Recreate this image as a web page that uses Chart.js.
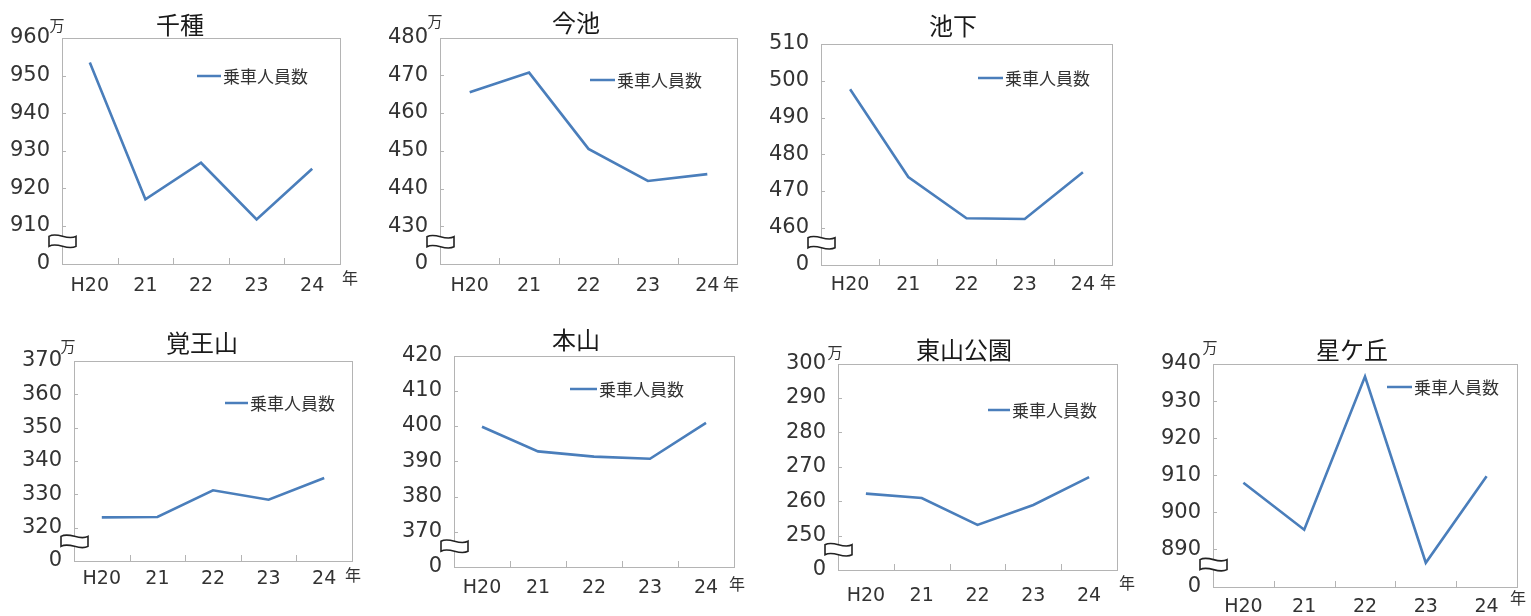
<!DOCTYPE html>
<html lang="ja">
<head>
<meta charset="utf-8">
<title>乗車人員数</title>
<script src="https://cdn.jsdelivr.net/npm/chart.js@4.4.1/dist/chart.umd.min.js"></script>
<style>
  html, body { margin: 0; padding: 0; background: #fff; }
  body { width: 1531px; height: 616px; position: relative; overflow: hidden; }
  canvas { position: absolute; }
</style>
</head>
<body>
<script>
// 年度（平成）
const years = ['H20', '21', '22', '23', '24'];

// 駅名
const stations = ['千種', '今池', '池下', '覚王山', '本山', '東山公園', '星ケ丘'];

// 乗車人員数（万人）
const chikusa     = [953.5, 917.1, 926.8, 911.7, 925.2];
const imaike      = [465.5, 470.7, 450.5, 442.0, 443.8];
const ikeshita    = [497.7, 473.8, 462.6, 462.4, 475.1];
const kakuozan    = [323.1, 323.2, 331.2, 328.4, 334.9];
const motoyama    = [399.8, 392.8, 391.3, 390.7, 400.9];
const higashiyama = [262.2, 260.9, 253.1, 258.9, 267.0];
const hoshigaoka  = [908.0, 895.3, 936.6, 886.4, 909.7];

// 縦軸の範囲（下端は省略記号の下で「0」と表示）
const axisMin = [900, 420, 450, 310, 360, 240, 880];
const axisMax = [960, 480, 510, 370, 420, 300, 940];
const axisStep = 10;

const seriesLabel = '乗車人員数';
const unitLabel = '万';
const yearUnit = '年';

const seriesByStation = [chikusa, imaike, ikeshita, kakuozan, motoyama, higashiyama, hoshigaoka];

// 各グラフの配置: box = キャンバス [左, 上, 右, 下], plot = 描画領域
const layout = [
  { box: [0, 0, 368, 300],      plot: [62, 38, 340, 263.5],   title: [180, 25],   man: [57, 25],    nen: [350, 278],  legend: [197, 221, 76],  xPad: 11 },
  { box: [370, 0, 746, 300],    plot: [440, 37.5, 737, 264],  title: [576, 23],   man: [435, 21],   nen: [731, 284],  legend: [590, 615, 80],  xPad: 11 },
  { box: [750, 0, 1135, 300],   plot: [821, 44, 1112, 264.5], title: [953, 26],   man: null,        nen: [1108, 282], legend: [978, 1003, 78], xPad: 9 },
  { box: [0, 318, 372, 616],    plot: [74, 361, 352, 561],    title: [202, 343],  man: [68, 346],   nen: [353, 575],  legend: [225, 248, 403], xPad: 7 },
  { box: [378, 318, 752, 616],  plot: [454, 355.5, 734, 567], title: [576, 340],  man: null,        nen: [737, 584],  legend: [570, 597, 389], xPad: 10 },
  { box: [756, 318, 1138, 616], plot: [838, 363.5, 1117, 570],title: [964, 350],  man: [835, 352],  nen: [1127, 583], legend: [988, 1010, 410],xPad: 15 },
  { box: [1140, 318, 1531, 616],plot: [1213, 364, 1517, 586.5],title: [1352, 350],man: [1210, 347], nen: [1518, 598], legend: [1387, 1412, 387],xPad: 9 }
];

const LINE_COLOR = '#4a7ebb';
const TEXT_COLOR = '#333333';
const FRAME_COLOR = '#b4b4b4';
const NUM_FONT = '"DejaVu Sans", "Liberation Sans", sans-serif';
const JP_FONT = '"Noto Sans CJK JP", "Noto Sans", sans-serif';

// 枠線・目盛り・省略記号・見出し・凡例を描くプラグイン
const framePlugin = {
  id: 'frame',
  beforeDatasetsDraw(chart, args, opts) {
    const ctx = chart.ctx;
    const a = chart.chartArea;
    const xs = chart.scales.x;
    const ys = chart.scales.y;
    ctx.save();
    ctx.strokeStyle = FRAME_COLOR;
    ctx.lineWidth = 1;
    ctx.strokeRect(Math.round(a.left) + 0.5, Math.round(a.top) + 0.5,
                   Math.round(a.right) - Math.round(a.left), Math.round(a.bottom) - Math.round(a.top));
    // 横軸の内向き目盛り（項目の境界）
    const n = chart.data.labels.length;
    ctx.beginPath();
    for (let i = 0; i < n - 1; i++) {
      const px = Math.round((xs.getPixelForTick(i) + xs.getPixelForTick(i + 1)) / 2) + 0.5;
      ctx.moveTo(px, Math.round(a.bottom));
      ctx.lineTo(px, Math.round(a.bottom) - 6);
    }
    // 縦軸の内向き目盛り
    ys.ticks.forEach(t => {
      if (t.value === ys.min || t.value === ys.max) return;
      const py = Math.round(ys.getPixelForValue(t.value)) + 0.5;
      ctx.moveTo(Math.round(a.left), py);
      ctx.lineTo(Math.round(a.left) + 4, py);
    });
    ctx.stroke();
    ctx.restore();
  },
  afterDraw(chart, args, opts) {
    const ctx = chart.ctx;
    const a = chart.chartArea;
    const ys = chart.scales.y;
    const ox = opts.origin[0], oy = opts.origin[1];
    ctx.save();

    // 軸の省略記号
    const cx = Math.round(a.left) + 0.5;
    const cy = ys.getPixelForValue(ys.min + 5.9);
    const w = 13.5, h = 5;
    ctx.beginPath();
    ctx.moveTo(cx - w, cy - h);
    ctx.bezierCurveTo(cx - w + 9, cy - h - 5, cx + w - 9, cy - h + 5, cx + w, cy - h);
    ctx.lineTo(cx + w, cy + h);
    ctx.bezierCurveTo(cx + w - 9, cy + h + 5, cx - w + 9, cy + h - 5, cx - w, cy + h);
    ctx.closePath();
    ctx.fillStyle = '#ffffff';
    ctx.fill();
    ctx.strokeStyle = '#222222';
    ctx.lineWidth = 1.6;
    ctx.stroke();

    ctx.textBaseline = 'middle';

    // 見出し
    ctx.textAlign = 'center';
    ctx.font = '24px ' + JP_FONT;
    ctx.fillStyle = '#1a1a1a';
    ctx.fillText(opts.title, opts.titlePos[0] - ox, opts.titlePos[1] - oy);

    ctx.fillStyle = TEXT_COLOR;
    // 単位
    if (opts.manPos) {
      ctx.font = '15px ' + JP_FONT;
      ctx.fillText(unitLabel, opts.manPos[0] - ox, opts.manPos[1] - oy);
    }
    ctx.font = '16px ' + JP_FONT;
    ctx.fillText(yearUnit, opts.nenPos[0] - ox, opts.nenPos[1] - oy);

    // 凡例
    const lg = opts.legendPos;
    const ds = chart.data.datasets[0];
    ctx.strokeStyle = ds.borderColor;
    ctx.lineWidth = 2.5;
    ctx.beginPath();
    ctx.moveTo(lg[0] - ox, lg[2] - oy);
    ctx.lineTo(lg[1] - ox, lg[2] - oy);
    ctx.stroke();
    ctx.textAlign = 'left';
    ctx.font = '17px ' + JP_FONT;
    ctx.fillStyle = TEXT_COLOR;
    ctx.fillText(ds.label, lg[1] + 2 - ox, lg[2] + 1 - oy);

    ctx.restore();
  }
};

stations.forEach((name, i) => {
  const L = layout[i];
  const [bL, bT, bR, bB] = L.box;
  const [pL, pT, pR, pB] = L.plot;
  const canvas = document.createElement('canvas');
  canvas.width = bR - bL;
  canvas.height = bB - bT;
  canvas.style.left = bL + 'px';
  canvas.style.top = bT + 'px';
  canvas.style.width = (bR - bL) + 'px';
  canvas.style.height = (bB - bT) + 'px';
  document.body.appendChild(canvas);

  const yMin = axisMin[i];
  const yMax = axisMax[i];

  new Chart(canvas, {
    type: 'line',
    data: {
      labels: years,
      datasets: [{
        label: seriesLabel,
        data: seriesByStation[i],
        borderColor: LINE_COLOR,
        backgroundColor: LINE_COLOR,
        borderWidth: 2.6,
        pointRadius: 0,
        tension: 0,
        fill: false
      }]
    },
    options: {
      responsive: false,
      animation: false,
      devicePixelRatio: 1,
      layout: { padding: { left: 0, top: pT - bT, right: bR - pR, bottom: 0 } },
      plugins: {
        legend: { display: false },
        title: { display: false },
        tooltip: { enabled: false },
        frame: {
          origin: [bL, bT],
          title: name,
          titlePos: L.title,
          manPos: L.man,
          nenPos: L.nen,
          legendPos: L.legend
        }
      },
      scales: {
        x: {
          offset: true,
          grid: { display: false, drawTicks: false },
          border: { display: false },
          ticks: {
            font: { family: NUM_FONT, size: 19 },
            color: TEXT_COLOR,
            padding: L.xPad,
            maxRotation: 0,
            autoSkip: false
          },
          afterFit: s => { s.height = bB - pB; }
        },
        y: {
          min: yMin,
          max: yMax,
          grid: { display: false, drawTicks: false },
          border: { display: false },
          ticks: {
            stepSize: axisStep,
            font: { family: NUM_FONT, size: 21 },
            color: TEXT_COLOR,
            padding: 12,
            callback: v => (v === yMin ? '0' : String(v))
          },
          afterFit: s => { s.width = pL - bL; }
        }
      }
    },
    plugins: [framePlugin]
  });
});
</script>
</body>
</html>
